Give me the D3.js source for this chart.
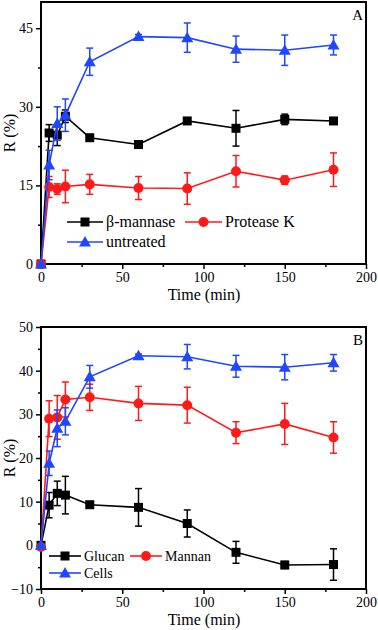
<!DOCTYPE html>
<html>
<head>
<meta charset="utf-8">
<script src="https://cdn.jsdelivr.net/npm/d3@7"></script>
<style>
  body { margin: 0; background: #fff; }
  svg { display: block; }
  svg text { font-family: "Liberation Serif", "Times New Roman", serif; }
</style>
</head>
<body>
<svg id="graphique" width="378" height="630"></svg>
<script>
// temps de prélèvement (min)
const times = [0, 5, 10, 15, 30, 60, 90, 120, 150, 180];

// panneau A
const mannaseA = [0, 25.0, 24.6, 28.2, 24.1, 22.8, 27.3, 25.9, 27.6, 27.3];
const mannaseAErr = [0, 1.6, 2.0, 1.2, 0.5, 0.5, 0.6, 3.4, 1.0, 0.6];
const proteaseA = [0, 14.7, 14.3, 14.8, 15.2, 14.5, 14.4, 17.7, 16.0, 18.0];
const proteaseAErr = [0, 2.0, 1.0, 3.1, 1.9, 2.2, 3.0, 3.0, 0.8, 3.2];
const untreatedA = [0, 18.9, 26.8, 28.4, 38.6, 43.4, 43.2, 41.0, 40.8, 41.8];
const untreatedAErr = [0, 2.8, 3.2, 3.1, 2.6, 0.4, 2.8, 2.5, 2.9, 1.9];

// panneau B
const glucanB = [0, 9.2, 11.9, 11.5, 9.3, 8.7, 5.0, -1.6, -4.5, -4.4];
const glucanBErr = [0, 2.9, 2.8, 4.3, 0.5, 4.3, 3.1, 2.5, 0.8, 3.6];
const mannanB = [-0.4, 29.0, 29.3, 33.4, 33.9, 32.5, 32.1, 25.8, 27.8, 24.7];
const mannanBErr = [0, 4.1, 5.0, 4.0, 3.0, 3.9, 4.1, 2.5, 4.7, 3.6];
const cellsB = [0, 18.8, 26.8, 28.4, 38.6, 43.4, 43.2, 41.0, 40.8, 41.8];
const cellsBErr = [0, 2.8, 4.2, 3.1, 2.6, 0.4, 2.8, 2.5, 2.9, 1.9];

const xTicks = [0, 50, 100, 150, 200];
const yTicksA = [0, 15, 30, 45];
const yTicksB = [-10, 0, 10, 20, 30, 40, 50];

const BLACK = '#000000', RED = '#ff1a1a', BLUE = '#2146ff';
const SERIF = '"Liberation Serif", "Times New Roman", serif';

const svg = d3.select('#graphique');

function panel(cfg) {
    const x = d3.scaleLinear().domain([0, 200]).range([41, 366]);
    const y = d3.scaleLinear().domain(cfg.yDomain).range([cfg.bottom, cfg.top]);
    const g = svg.append('g');

    // axes avec graduations vers l'extérieur
    const xMinor = d3.range(25, 200, 50);
    g.append('g').attr('transform', `translate(0,${cfg.bottom})`)
        .call(d3.axisBottom(x).tickValues(xMinor).tickSize(3).tickFormat(''))
        .call(a => a.select('.domain').remove())
        .call(a => a.selectAll('line').attr('stroke-width', 1.5));
    g.append('g').attr('transform', `translate(0,${cfg.bottom})`)
        .call(d3.axisBottom(x).tickValues(xTicks).tickSize(5).tickPadding(3))
        .attr('font-family', SERIF)
        .call(a => a.select('.domain').remove())
        .call(a => a.selectAll('line').attr('stroke-width', 1.5))
        .call(a => a.selectAll('text').attr('font-size', 14).attr('fill', '#000'));

    g.append('g').attr('transform', 'translate(41,0)')
        .call(d3.axisLeft(y).tickValues(cfg.yMinor).tickSize(3).tickFormat(''))
        .call(a => a.select('.domain').remove())
        .call(a => a.selectAll('line').attr('stroke-width', 1.5));
    g.append('g').attr('transform', 'translate(41,0)')
        .call(d3.axisLeft(y).tickValues(cfg.yTicks).tickSize(5).tickPadding(3))
        .attr('font-family', SERIF)
        .call(a => a.select('.domain').remove())
        .call(a => a.selectAll('line').attr('stroke-width', 1.5))
        .call(a => a.selectAll('text').attr('font-size', 14).attr('fill', '#000'));

    // cadre
    g.append('rect')
        .attr('x', x(0)).attr('y', cfg.top)
        .attr('width', x(200) - x(0)).attr('height', cfg.bottom - cfg.top)
        .attr('fill', 'none').attr('stroke', '#000').attr('stroke-width', 2);

    // titres
    g.append('text').attr('x', 204).attr('y', cfg.bottom + 36)
        .attr('text-anchor', 'middle').attr('font-size', 16).text('Time (min)');
    g.append('text')
        .attr('transform', `translate(15,${(cfg.top + cfg.bottom) / 2}) rotate(-90)`)
        .attr('text-anchor', 'middle').attr('font-size', 16).text('R (%)');
    g.append('text').attr('x', 363).attr('y', cfg.top + 18)
        .attr('text-anchor', 'end').attr('font-size', 15).text(cfg.letter);

    const line = d3.line().x((d, i) => x(times[i])).y(d => y(d));

    cfg.series.forEach(s => {
        const sg = g.append('g');
        sg.append('path').datum(s.values).attr('d', line)
            .attr('fill', 'none').attr('stroke', s.color).attr('stroke-width', 1.6);
        // barres d'erreur
        s.values.forEach((v, i) => {
            const e = s.err[i];
            if (e <= 0) return;
            const cx = x(times[i]);
            sg.append('line').attr('x1', cx).attr('x2', cx)
                .attr('y1', y(v - e)).attr('y2', y(v + e))
                .attr('stroke', s.color).attr('stroke-width', 1.5);
            [v - e, v + e].forEach(t => {
                sg.append('line').attr('x1', cx - 3.5).attr('x2', cx + 3.5)
                    .attr('y1', y(t)).attr('y2', y(t))
                    .attr('stroke', s.color).attr('stroke-width', 1.5);
            });
        });
        s.values.forEach((v, i) => marker(sg, s.shape, x(times[i]), y(v), s.color));
    });

    // légende
    cfg.legend.forEach(l => {
        const s = cfg.series[l.idx];
        g.append('line').attr('x1', l.x1).attr('x2', l.x2).attr('y1', l.y).attr('y2', l.y)
            .attr('stroke', s.color).attr('stroke-width', 1.6);
        marker(g, s.shape, (l.x1 + l.x2) / 2, l.y, s.color);
        g.append('text').attr('x', l.x2 + 3).attr('y', l.y + 5)
            .attr('font-size', cfg.legendSize).text(s.name);
    });
}

function marker(g, shape, cx, cy, color) {
    if (shape === 'square') {
        g.append('rect').attr('x', cx - 4.5).attr('y', cy - 4.5)
            .attr('width', 9).attr('height', 9).attr('fill', color);
    } else if (shape === 'circle') {
        g.append('circle').attr('cx', cx).attr('cy', cy).attr('r', 5).attr('fill', color);
    } else {
        g.append('path')
            .attr('d', `M${cx},${cy - 6}L${cx + 6},${cy + 4.5}L${cx - 6},${cy + 4.5}Z`)
            .attr('fill', color);
    }
}

panel({
    top: 2, bottom: 264, yDomain: [0, 50],
    yTicks: yTicksA, yMinor: [7.5, 22.5, 37.5], letter: 'A', legendSize: 16,
    series: [
        { name: 'β-mannase', values: mannaseA, err: mannaseAErr, color: BLACK, shape: 'square' },
        { name: 'Protease K', values: proteaseA, err: proteaseAErr, color: RED, shape: 'circle' },
        { name: 'untreated', values: untreatedA, err: untreatedAErr, color: BLUE, shape: 'triangle' }
    ],
    legend: [
        { idx: 0, x1: 67, x2: 103, y: 222 },
        { idx: 1, x1: 185, x2: 222, y: 222 },
        { idx: 2, x1: 67, x2: 103, y: 242 }
    ]
});

panel({
    top: 327, bottom: 589, yDomain: [-10, 50],
    yTicks: yTicksB, yMinor: d3.range(-5, 50, 10), letter: 'B', legendSize: 14,
    series: [
        { name: 'Glucan', values: glucanB, err: glucanBErr, color: BLACK, shape: 'square' },
        { name: 'Mannan', values: mannanB, err: mannanBErr, color: RED, shape: 'circle' },
        { name: 'Cells', values: cellsB, err: cellsBErr, color: BLUE, shape: 'triangle' }
    ],
    legend: [
        { idx: 0, x1: 49, x2: 81, y: 556 },
        { idx: 1, x1: 130, x2: 162, y: 556 },
        { idx: 2, x1: 49, x2: 81, y: 573 }
    ]
});
</script>
</body>
</html>
